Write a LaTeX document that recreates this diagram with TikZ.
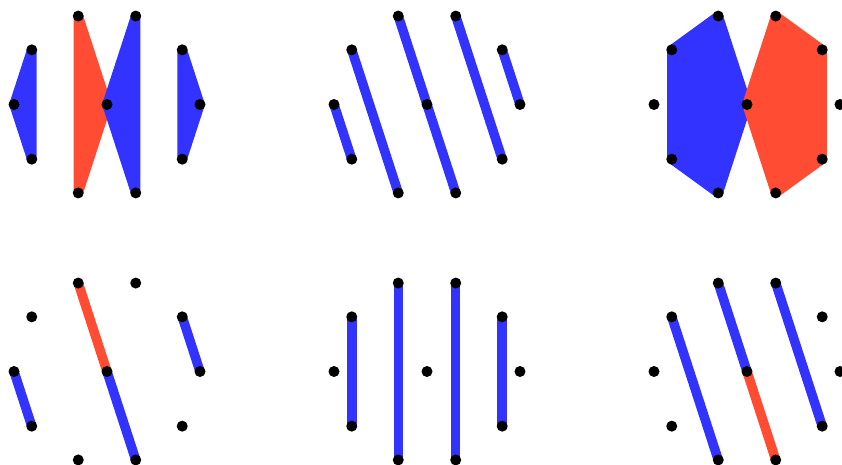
\documentclass[tikz,border=0pt]{standalone}
\usetikzlibrary{calc, backgrounds}
\definecolor{pairBlue}{HTML}{3333FF}
\definecolor{pairRed}{HTML}{FF4C33}

\begin{document}
\begin{tikzpicture}[
    dot/.style={circle, fill=black, inner sep=0pt, minimum size=1.1mm},
    blueface/.style={fill=pairBlue, draw=pairBlue, line width=0.95mm, line join=round},
    redface/.style={fill=pairRed, draw=pairRed, line width=0.95mm, line join=round},
    blueedge/.style={draw=pairBlue, line width=0.95mm, line cap=round},
    rededge/.style={draw=pairRed, line width=0.95mm, line cap=round},
]
\useasboundingbox (0,0) rectangle (8.42,4.64);

% ten points on a circle plus the centre, one set per panel
\foreach \name/\cx/\cy in {tl/1.07/3.595, tm/4.27/3.595, tr/7.47/3.595,
                           bl/1.07/0.925, bm/4.27/0.925, br/7.47/0.925} {
    \node[dot] (\name c) at (\cx,\cy) {};
    \foreach \k in {0,...,9}
        \node[dot] (\name\k) at ($(\name c)+(\k*36:0.93)$) {};
}

\begin{scope}[on background layer]
% top left: four triangles
\filldraw[blueface] (tl4.center) -- (tl5.center) -- (tl6.center) -- cycle;
\filldraw[redface]  (tl3.center) -- (tl7.center) -- (tlc.center) -- cycle;
\filldraw[blueface] (tl2.center) -- (tlc.center) -- (tl8.center) -- cycle;
\filldraw[blueface] (tl1.center) -- (tl0.center) -- (tl9.center) -- cycle;

% top middle: parallel segments
\draw[blueedge] (tm5.center) -- (tm6.center);
\draw[blueedge] (tm4.center) -- (tm7.center);
\draw[blueedge] (tm3.center) -- (tm8.center);
\draw[blueedge] (tm2.center) -- (tm9.center);
\draw[blueedge] (tm1.center) -- (tm0.center);

% top right: two pentagons meeting at the centre
\filldraw[blueface] (tr3.center) -- (tr4.center) -- (tr6.center) -- (tr7.center) -- (trc.center) -- cycle;
\filldraw[redface]  (tr2.center) -- (tr1.center) -- (tr9.center) -- (tr8.center) -- (trc.center) -- cycle;

% bottom left
\draw[blueedge] (bl5.center) -- (bl6.center);
\draw[rededge]  (bl3.center) -- (blc.center);
\draw[blueedge] (blc.center) -- (bl8.center);
\draw[blueedge] (bl1.center) -- (bl0.center);

% bottom middle: vertical segments
\draw[blueedge] (bm4.center) -- (bm6.center);
\draw[blueedge] (bm3.center) -- (bm7.center);
\draw[blueedge] (bm2.center) -- (bm8.center);
\draw[blueedge] (bm1.center) -- (bm9.center);

% bottom right
\draw[blueedge] (br4.center) -- (br7.center);
\draw[blueedge] (br3.center) -- (brc.center);
\draw[rededge]  (brc.center) -- (br8.center);
\draw[blueedge] (br2.center) -- (br9.center);
\end{scope}

\end{tikzpicture}
\end{document}
